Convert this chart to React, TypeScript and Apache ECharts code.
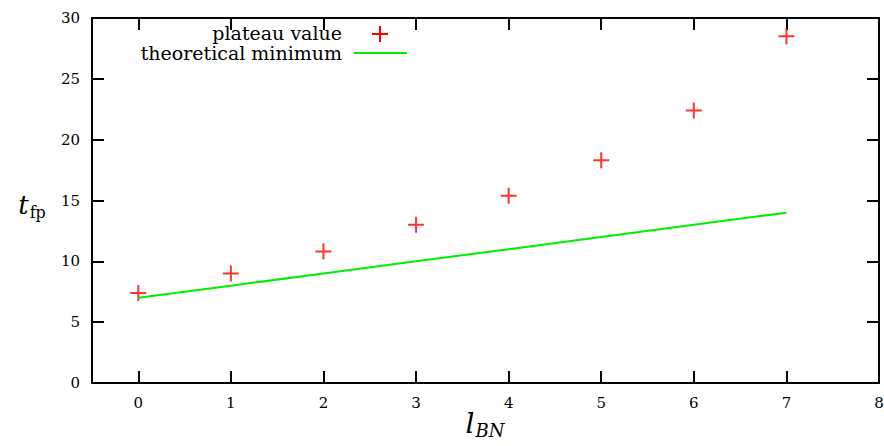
import React, { useEffect, useRef } from "react";
import * as echarts from "echarts";

const xValues = [0, 1, 2, 3, 4, 5, 6, 7];
const plateauValues = [7.4, 9.0, 10.8, 13.0, 15.4, 18.3, 22.4, 28.5];
const theoreticalMin = [7, 8, 9, 10, 11, 12, 13, 14];
const xTicks = [0, 1, 2, 3, 4, 5, 6, 7, 8];
const yTicks = [0, 5, 10, 15, 20, 25, 30];

const FONT = "DejaVu Serif";
const PLUS = "path://M0,-8L0,8M-8,0L8,0";
const TICK_LEN = 12;

const mkLine = () => ({ show: true, onZero: false, lineStyle: { color: "#000", width: 2 } });
const mkTick = (vals: number[]) => ({
  show: true, inside: true, length: TICK_LEN, customValues: vals,
  lineStyle: { color: "#000", width: 2 },
});
const mkLabel = (vals: number[]) => ({
  customValues: vals, color: "#000", fontFamily: FONT, fontSize: 15, margin: 12,
});

export default function App() {
  const ref = useRef<HTMLDivElement>(null);
  useEffect(() => {
    const chart = echarts.init(ref.current!, null, { renderer: "svg" });
    chart.setOption({
      animation: false,
      grid: { left: 92, right: 5, top: 18, bottom: 63, outerBoundsMode: "none" },
      xAxis: [
        {
          type: "value", min: -0.5, max: 8, position: "bottom",
          axisLine: mkLine(), axisTick: mkTick(xTicks), axisLabel: mkLabel(xTicks),
          splitLine: { show: false },
        },
        {
          type: "value", min: -0.5, max: 8, position: "top",
          axisLine: mkLine(), axisTick: mkTick(xTicks), axisLabel: { show: false },
          splitLine: { show: false },
        },
      ],
      yAxis: [
        {
          type: "value", min: 0, max: 30, interval: 5, position: "left",
          axisLine: mkLine(), axisTick: mkTick(yTicks), axisLabel: mkLabel(yTicks),
          splitLine: { show: false },
        },
        {
          type: "value", min: 0, max: 30, interval: 5, position: "right",
          axisLine: mkLine(), axisTick: mkTick(yTicks), axisLabel: { show: false },
          splitLine: { show: false },
        },
      ],
      series: [
        {
          name: "plateau value", type: "scatter",
          data: xValues.map((x, i) => [x, plateauValues[i]]),
          symbol: PLUS, symbolSize: 16,
          itemStyle: { color: "none", borderColor: "#ff0000", borderWidth: 2 },
        },
        {
          name: "theoretical minimum", type: "line",
          data: xValues.map((x, i) => [x, theoreticalMin[i]]),
          showSymbol: false, symbol: "none",
          lineStyle: { color: "#00ee00", width: 2 },
        },
      ],
      graphic: [
        {
          type: "text", x: 342, y: 32.5,
          style: { text: "plateau value", font: `19px "${FONT}"`, fill: "#000", align: "right", verticalAlign: "middle" },
        },
        {
          type: "text", x: 342, y: 52.5,
          style: { text: "theoretical minimum", font: `19px "${FONT}"`, fill: "#000", align: "right", verticalAlign: "middle" },
        },
        { type: "line", shape: { x1: 372, y1: 34, x2: 388, y2: 34 }, style: { stroke: "#ff0000", lineWidth: 2 } },
        { type: "line", shape: { x1: 380, y1: 26, x2: 380, y2: 42 }, style: { stroke: "#ff0000", lineWidth: 2 } },
        { type: "line", shape: { x1: 354, y1: 53, x2: 407, y2: 53 }, style: { stroke: "#00ee00", lineWidth: 2 } },
        {
          type: "text", x: 32, y: 205,
          style: {
            text: "{i|t}{s|fp}",
            align: "center", verticalAlign: "middle",
            rich: {
              i: { fontFamily: FONT, fontStyle: "italic", fontSize: 26, fill: "#000" },
              s: { fontFamily: FONT, fontSize: 16, fill: "#000", padding: [14, 0, 0, 1] },
            },
          },
        },
        {
          type: "text", x: 485, y: 423,
          style: {
            text: "{i|l}{s|BN}",
            align: "center", verticalAlign: "middle",
            rich: {
              i: { fontFamily: FONT, fontStyle: "italic", fontSize: 28, fill: "#000" },
              s: { fontFamily: FONT, fontStyle: "italic", fontSize: 18, fill: "#000", padding: [14, 0, 0, 1] },
            },
          },
        },
      ],
    });
    return () => chart.dispose();
  }, []);
  return <div ref={ref} style={{ width: 884, height: 446, position: "absolute", left: 0, top: 0 }} />;
}
